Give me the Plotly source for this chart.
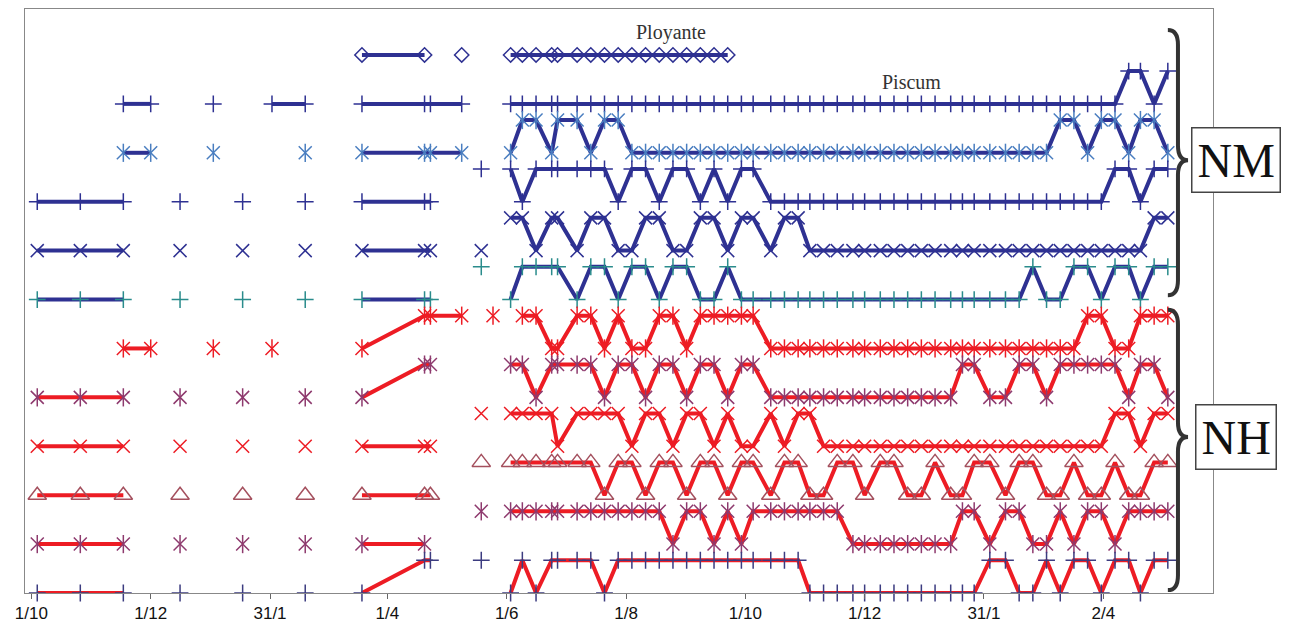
import plotly.graph_objects as go

N = None

# ---- axis ticks (days counted from 1 October of the first season) ----
TICK_DAYS = [0, 61, 122, 182, 243, 304, 365, 426, 487, 548]
TICK_LABELS = ["1/10", "1/12", "31/1", "1/4", "1/6", "1/8", "1/10", "1/12", "31/1", "2/4"]

# ---- sampling days ----
SEASON1_DAYS = [3, 25, 47, 61, 76, 93, 108, 123, 140, 155, 169, 201, 204, 220, 230, 236]
SEASON2_DAYS = [245, 251, 258, 266, 269, 279, 286, 293, 300, 307,
                314, 321, 328, 335, 342, 349, 356, 363, 369, 378,
                385, 392, 398, 405, 412, 420, 426, 434, 441, 448,
                455, 462, 470, 476, 482, 490, 498, 505, 512, 519,
                526, 533, 540, 547, 554, 561, 567, 574, 581]

# ---- states per series: 0 = low level, 1 = high level, None = not observed ----
# row 11 (top): Ployante
PLOYANTE_S1 = [N, N, N, N, N, N, N, N, N, N, 0, 0, N, 0, N, N]
PLOYANTE_S2 = [0, 0, 0, 0, 0, 0, 0, 0, 0, 0,
               0, 0, 0, 0, 0, 0, 0, N, N, N,
               N, N, N, N, N, N, N, N, N, N,
               N, N, N, N, N, N, N, N, N, N,
               N, N, N, N, N, N, N, N, N]
# row 10: Piscum
PISCUM_S1 = [N, N, 0, 0, N, 0, N, 0, 0, N, 0, 0, 0, 0, N, N]
PISCUM_S2 = [0, 0, 0, 0, 0, 0, 0, 0, 0, 0,
             0, 0, 0, 0, 0, 0, 0, 0, 0, 0,
             0, 0, 0, 0, 0, 0, 0, 0, 0, 0,
             0, 0, 0, 0, 0, 0, 0, 0, 0, 0,
             0, 0, 0, 0, 0, 1, 1, 0, 1]
# row 9
NM3_S1 = [N, N, 0, 0, N, 0, N, N, 0, N, 0, 0, 0, 0, N, N]
NM3_S2 = [0, 1, 1, 0, 1, 1, 0, 1, 1, 0,
          0, 0, 0, 0, 0, 0, 0, 0, 0, 0,
          0, 0, 0, 0, 0, 0, 0, 0, 0, 0,
          0, 0, 0, 0, 0, 0, 0, 0, 0, 0,
          1, 1, 0, 1, 1, 0, 1, 1, 0]
# row 8
NM4_S1 = [0, 0, 0, N, 0, N, 0, N, 0, N, 0, 0, 0, N, 1, N]
NM4_S2 = [1, 0, 1, 1, 1, 1, 1, 1, 0, 1,
          1, 0, 1, 1, 0, 1, 0, 1, 1, 0,
          0, 0, 0, 0, 0, 0, 0, 0, 0, 0,
          0, 0, 0, 0, 0, 0, 0, 0, 0, 0,
          0, 0, 0, 0, 1, 1, 0, 1, 1]
# row 7
NM5_S1 = [0, 0, 0, N, 0, N, 0, N, 0, N, 0, 0, 0, N, 0, N]
NM5_S2 = [1, 1, 0, 1, 1, 0, 1, 1, 0, 0,
          1, 1, 0, 0, 1, 1, 0, 1, 1, 0,
          1, 1, 0, 0, 0, 0, 0, 0, 0, 0,
          0, 0, 0, 0, 0, 0, 0, 0, 0, 0,
          0, 0, 0, 0, 0, 0, 0, 1, 1]
# row 6
NM6_S1 = [0, 0, 0, N, 0, N, 0, N, 0, N, 0, 0, 0, N, 1, N]
NM6_S2 = [0, 1, 1, 1, 1, 0, 1, 1, 0, 1,
          1, 0, 1, 1, 0, 0, 1, 0, 0, 0,
          0, 0, 0, 0, 0, 0, 0, 0, 0, 0,
          0, 0, 0, 0, 0, 0, 0, 0, 1, 0,
          0, 1, 1, 0, 1, 1, 0, 1, 1]
# row 5
NH1_S1 = [N, N, 0, 0, N, 0, N, 0, N, N, 0, 1, 1, 1, N, 1]
NH1_S2 = [N, 1, 1, 0, 0, 1, 1, 0, 1, 0,
          0, 1, 1, 0, 1, 1, 1, 1, 1, 0,
          0, 0, 0, 0, 0, 0, 0, 0, 0, 0,
          0, 0, 0, 0, 0, 0, 0, 0, 0, 0,
          0, 0, 1, 1, 0, 0, 1, 1, 1]
# row 4
NH2_S1 = [0, 0, 0, N, 0, N, 0, N, 0, N, 0, 1, 1, N, N, N]
NH2_S2 = [1, 1, 0, 1, 1, 1, 1, 0, 1, 1,
          0, 1, 1, 0, 1, 1, 0, 1, 1, 0,
          0, 0, 0, 0, 0, 0, 0, 0, 0, 0,
          0, 0, 0, 1, 1, 0, 0, 1, 1, 0,
          1, 1, 1, 1, 1, 0, 1, 1, 0]
# row 3
NH3_S1 = [0, 0, 0, N, 0, N, 0, N, 0, N, 0, 0, 0, N, 1, N]
NH3_S2 = [1, 1, 1, 1, 0, 1, 1, 1, 1, 0,
          1, 1, 0, 1, 1, 0, 1, 0, 0, 1,
          0, 1, 1, 0, 0, 0, 0, 0, 0, 0,
          0, 0, 0, 0, 0, 0, 0, 0, 0, 0,
          0, 0, 0, 0, 1, 1, 0, 1, 1]
# row 2
NH4_S1 = [0, 0, 0, N, 0, N, 0, N, 0, N, 0, 0, 0, N, 1, N]
NH4_S2 = [1, 1, 1, 1, 1, 1, 1, 0, 1, 1,
          0, 1, 1, 0, 1, 1, 0, 1, 1, 0,
          1, 1, 0, 0, 1, 1, 0, 1, 1, 0,
          0, 1, 0, 0, 1, 1, 0, 1, 1, 0,
          0, 1, 0, 0, 1, 0, 0, 1, 1]
# row 1
NH5_S1 = [0, 0, 0, N, 0, N, 0, N, 0, N, 0, 0, N, N, 1, N]
NH5_S2 = [1, 1, 1, 1, 1, 1, 1, 1, 1, 1,
          1, 1, 0, 1, 1, 0, 1, 0, 1, 1,
          1, 1, 1, 1, 1, 0, 0, 0, 0, 0,
          0, 0, 0, 1, 1, 0, 1, 1, 0, 0,
          1, 0, 1, 1, 0, 1, 1, 1, 1]
# row 0 (bottom)
NH6_S1 = [0, 0, 0, N, 0, N, 0, N, 0, N, 0, 1, 1, N, 1, N]
NH6_S2 = [0, 1, 0, 1, 1, 1, 1, 0, 1, 1,
          1, 1, 1, 1, 1, 1, 1, 1, 1, 1,
          1, 1, 0, 0, 0, 0, 0, 0, 0, 0,
          0, 0, 0, 0, 0, 1, 1, 0, 0, 1,
          0, 1, 1, 0, 1, 1, 0, 1, 1]

NAVY = "#2E3192"
RED = "#ED1C24"
SERIES = [
    # (row, s1, s2, line colour, marker symbol, marker colour, size, star)
    (11, PLOYANTE_S1, PLOYANTE_S2, NAVY, "diamond-open", NAVY, 11, False),
    (10, PISCUM_S1, PISCUM_S2, NAVY, "cross-thin", NAVY, 12, False),
    (9, NM3_S1, NM3_S2, NAVY, "x-thin", "#4A7EC0", 13, True),
    (8, NM4_S1, NM4_S2, NAVY, "cross-thin", NAVY, 12, False),
    (7, NM5_S1, NM5_S2, NAVY, "x-thin", NAVY, 13, False),
    (6, NM6_S1, NM6_S2, NAVY, "cross-thin", "#2A8C8C", 12, False),
    (5, NH1_S1, NH1_S2, RED, "x-thin", RED, 13, True),
    (4, NH2_S1, NH2_S2, RED, "x-thin", "#8E3A6E", 13, True),
    (3, NH3_S1, NH3_S2, RED, "x-thin", RED, 13, False),
    (2, NH4_S1, NH4_S2, RED, "triangle-up-open", "#A4505E", 16, False),
    (1, NH5_S1, NH5_S2, RED, "x-thin", "#8E3A6E", 13, True),
    (0, NH6_S1, NH6_S2, RED, "cross-thin", "#3C3C80", 12, False),
]
HIGH_OFFSET = 0.67

days = SEASON1_DAYS + SEASON2_DAYS
fig = go.Figure()
for row, s1, s2, lc, sym, mc, size, star in SERIES:
    ys = [None if s is None else row + HIGH_OFFSET * s for s in s1 + s2]
    fig.add_trace(go.Scatter(
        x=days, y=ys, mode="lines+markers", cliponaxis=False,
        line=dict(color=lc, width=4),
        marker=dict(symbol=sym, size=size, color=mc, line=dict(color=mc, width=1.5)),
        showlegend=False, hoverinfo="skip"))
    if star:
        fig.add_trace(go.Scatter(
            x=days, y=ys, mode="markers", cliponaxis=False,
            marker=dict(symbol="line-ns", size=size, color=mc, line=dict(color=mc, width=1.5)),
            showlegend=False, hoverinfo="skip"))

# labels
fig.add_annotation(x=327, y=11.45, xref="x", yref="y", text="Ployante", showarrow=False,
                   font=dict(family="Liberation Serif", size=20, color="#333333"))
fig.add_annotation(x=450, y=10.45, xref="x", yref="y", text="Piscum", showarrow=False,
                   font=dict(family="Liberation Serif", size=20, color="#333333"))


def brace(ytop, ybot, ymid):
    x0, x1, x2 = 0.962, 0.9705, 0.979
    d = 0.3
    return (f"M {x0},{ytop} Q {x1},{ytop} {x1},{ytop - d} L {x1},{ymid + d} "
            f"Q {x1},{ymid} {x2},{ymid} Q {x1},{ymid} {x1},{ymid - d} "
            f"L {x1},{ybot + d} Q {x1},{ybot} {x0},{ybot}")


for ytop, ybot, ymid, label in [(11.51, 6.09, 8.85, "NM"), (5.79, 0.06, 3.19, "NH")]:
    fig.add_shape(type="path", xref="paper", yref="y", path=brace(ytop, ybot, ymid),
                  line=dict(color="#333333", width=4))
    fig.add_annotation(x=1.0194, y=ymid, xref="paper", yref="y", xanchor="center", yanchor="middle",
                       text=label, showarrow=False,
                       font=dict(family="Liberation Serif", size=48, color="#111111"),
                       bordercolor="#444444", borderwidth=1.5, borderpad=5, bgcolor="white")

fig.update_layout(
    width=1276, height=618,
    margin=dict(l=17, r=71, t=1, b=33),
    paper_bgcolor="white", plot_bgcolor="white",
    xaxis=dict(range=[-3.27, 604.1], tickmode="array", tickvals=TICK_DAYS, ticktext=TICK_LABELS,
               ticks="outside", ticklen=5, tickcolor="#666666", showgrid=False, zeroline=False,
               showline=True, linecolor="#888888", linewidth=1, mirror=True,
               tickfont=dict(family="Liberation Sans", size=17, color="#111111")),
    yaxis=dict(range=[0, 11.94], showticklabels=False, ticks="", showgrid=False, zeroline=False,
               showline=True, linecolor="#888888", linewidth=1, mirror=True),
)

fig.write_html("out.html")
